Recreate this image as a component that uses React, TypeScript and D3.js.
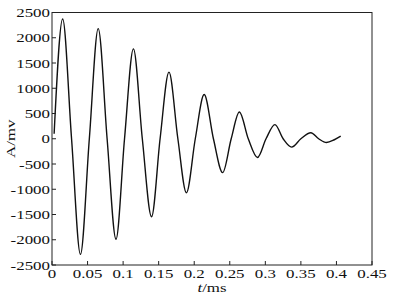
import * as d3 from 'd3';

// time (ms) and amplitude (mV): start, peaks, troughs and zero crossings
const times = [
  0.003, 0.015, 0.0275, 0.040, 0.0525, 0.065, 0.0775, 0.090, 0.102, 0.1145,
  0.127, 0.140, 0.152, 0.1645, 0.177, 0.189, 0.2015, 0.214, 0.227, 0.240,
  0.252, 0.2635, 0.276, 0.289, 0.301, 0.3135, 0.325, 0.337, 0.350, 0.364,
  0.375, 0.386, 0.397, 0.406,
];
const amplitude = [
  100, 2370, 0, -2290, 0, 2180, 0, -1990, 0, 1780,
  0, -1545, 0, 1320, 0, -1070, 0, 875, 0, -670,
  0, 530, 0, -370, 0, 280, 0, -165, 0, 120,
  0, -75, -20, 50,
];

const xTicks = [0, 0.05, 0.1, 0.15, 0.2, 0.25, 0.3, 0.35, 0.4, 0.45];
const xTickLabels = ['0', '0.05', '0.1', '0.15', '0.2', '0.25', '0.3', '0.35', '0.4', '0.45'];
const yTicks = [2500, 2000, 1500, 1000, 500, 0, -500, -1000, -1500, -2000, -2500];
const yTickLabels = ['2500', '2000', '1500', '1000', '500', '0', '-500', '-1000', '-1500', '-2000', '-2500'];

const W = 394;
const H = 299;
const margin = { top: 12.5, right: 22, bottom: 34, left: 52 };
const font = '"Liberation Serif", "Times New Roman", serif';

export default function App() {
  const x = d3.scaleLinear().domain([0, 0.45]).range([margin.left, W - margin.right]);
  const y = d3.scaleLinear().domain([-2500, 2500]).range([H - margin.bottom, margin.top]);

  const points = times.map((t, i) => [t, amplitude[i]] as [number, number]);
  const line = d3.line<[number, number]>()
    .x(d => x(d[0]))
    .y(d => y(d[1]))
    .curve(d3.curveMonotoneX);

  const x0 = x.range()[0], x1 = x.range()[1];
  const yTop = y.range()[1], yBot = y.range()[0];

  return (
    <svg width={W} height={H} style={{ position: 'absolute', left: 0, top: 0, background: '#fff' }}>
      <path d={line(points) ?? ''} fill="none" stroke="#111" strokeWidth={1.4} />

      {/* frame */}
      <rect x={x0} y={yTop} width={x1 - x0} height={yBot - yTop} fill="none" stroke="#222" strokeWidth={1} />

      {/* y axis */}
      {yTicks.map((v, i) => (
        <g key={'y' + v}>
          <line x1={x0} x2={x0 + 4} y1={y(v)} y2={y(v)} stroke="#222" />
          <text
            transform={`translate(${x0 - 2},${y(v) + 4.5}) scale(1.3,1)`}
            textAnchor="end"
            fontFamily={font}
            fontSize={13}
            fill="#111"
          >
            {yTickLabels[i]}
          </text>
        </g>
      ))}

      {/* x axis */}
      {xTicks.map((v, i) => (
        <g key={'x' + v}>
          <line x1={x(v)} x2={x(v)} y1={yBot} y2={yBot - 4} stroke="#222" />
          <text
            transform={`translate(${x(v)},${yBot + 13}) scale(1.3,1)`}
            textAnchor="middle"
            fontFamily={font}
            fontSize={13}
            fill="#111"
          >
            {xTickLabels[i]}
          </text>
        </g>
      ))}

      <text
        transform={`translate(${(x0 + x1) / 2},${yBot + 26.5}) scale(1.3,1)`}
        textAnchor="middle"
        fontFamily={font}
        fontSize={13}
        fill="#111"
      >
        <tspan fontStyle="italic">t</tspan>/ms
      </text>
      <text
        transform={`translate(15,${(yTop + yBot) / 2}) rotate(-90) scale(1.3,1)`}
        textAnchor="middle"
        fontFamily={font}
        fontSize={13}
        fill="#111"
      >
        A/mv
      </text>
    </svg>
  );
}
